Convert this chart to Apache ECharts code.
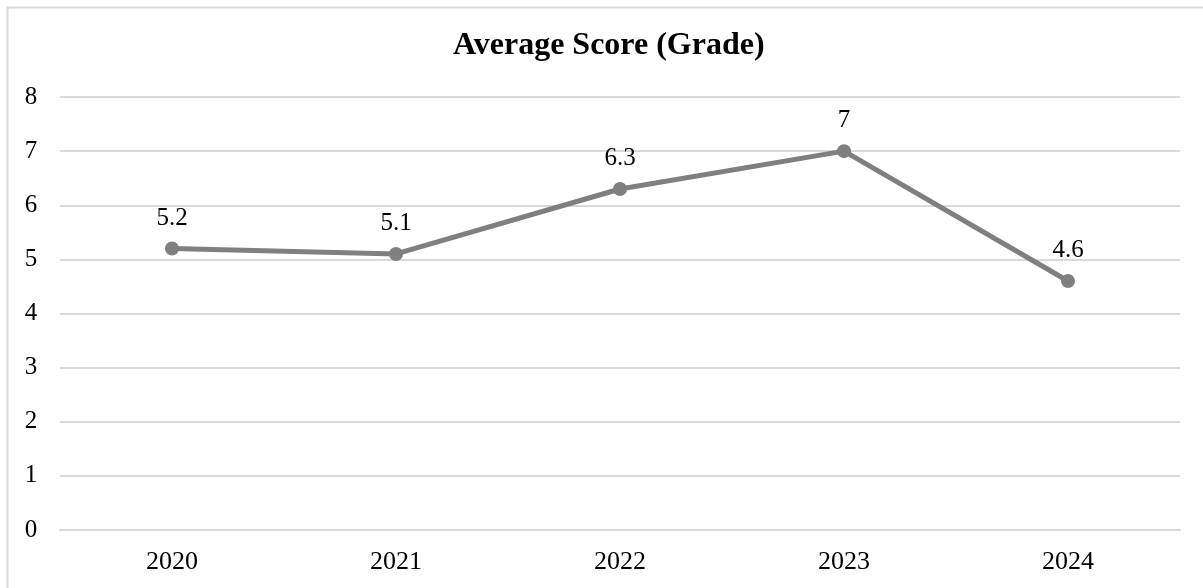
<!DOCTYPE html>
<html>
<head>
<meta charset="utf-8">
<style>
  html, body { margin: 0; padding: 0; background: #fff; }
  #chart { width: 1203px; height: 588px; }
</style>
<script src="https://cdn.jsdelivr.net/npm/echarts@6/dist/echarts.min.js"></script>
</head>
<body>
<div id="chart"></div>
<script>
  var years = ['2020', '2021', '2022', '2023', '2024'];
  var scores = [5.2, 5.1, 6.3, 7, 4.6];
  var serif = '"Liberation Serif", "Times New Roman", serif';

  var myChart = echarts.init(document.getElementById('chart'));

  var option = {
    backgroundColor: '#fff',
    animation: false,
    title: {
      text: 'Average Score (Grade)',
      left: 448,
      top: 25,
      textStyle: { fontFamily: serif, fontSize: 32, fontWeight: 'bold', color: '#000' }
    },
    graphic: [{
      type: 'rect',
      shape: { x: 7.5, y: 7.5, width: 1200, height: 600 },
      style: { fill: 'none', stroke: '#d9d9d9', lineWidth: 2 }
    }],
    grid: { left: 60, right: 23, top: 97, bottom: 58 },
    xAxis: {
      type: 'category',
      data: years,
      axisLine: { lineStyle: { color: '#d9d9d9', width: 2 } },
      axisTick: { show: false },
      axisLabel: { fontFamily: serif, fontSize: 26, color: '#000', margin: 19 }
    },
    yAxis: {
      type: 'value',
      min: 0, max: 8, interval: 1,
      axisLine: { show: false },
      splitLine: { lineStyle: { color: '#d9d9d9', width: 2 } },
      axisLabel: { fontFamily: serif, fontSize: 25, color: '#000', margin: 29, align: 'center' }
    },
    series: [{
      name: 'Average Score',
      type: 'line',
      data: scores,
      symbol: 'circle',
      symbolSize: 14,
      lineStyle: { color: '#7f7f7f', width: 5 },
      itemStyle: { color: '#7f7f7f' },
      label: {
        show: true,
        position: 'top',
        distance: 11,
        fontFamily: serif,
        fontSize: 25,
        color: '#000'
      }
    }]
  };
  myChart.setOption(option);
</script>
</body>
</html>
